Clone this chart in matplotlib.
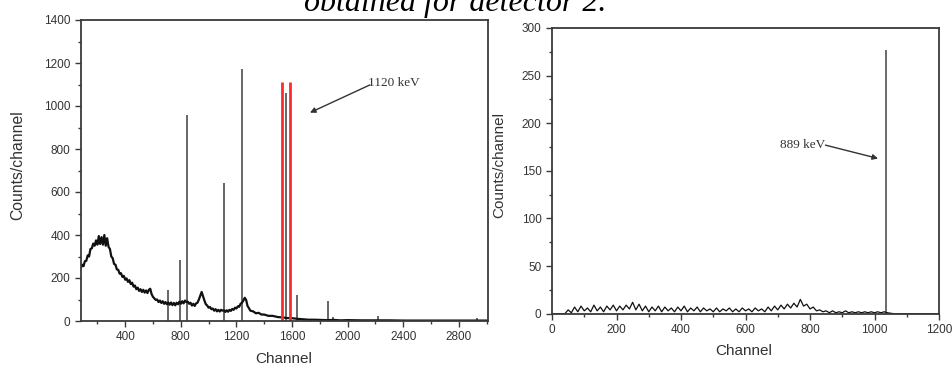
import matplotlib
matplotlib.use("Agg")
import matplotlib.pyplot as plt
from matplotlib.ticker import MultipleLocator

# ---------------- data ----------------
# Left spectrum: continuum samples (channel, counts)
left_cont_ch = [80, 90, 100, 110, 120, 130, 140, 150, 160, 170, 180, 190, 200, 210, 220,
                230, 240, 250, 260, 270, 280, 290, 300, 310, 320, 330, 340, 350, 360, 370,
                380, 390, 400, 410, 420, 430, 440, 450, 460, 470, 480, 490, 500, 510, 520,
                530, 540, 550, 560, 570, 580, 590, 600, 610, 620, 630, 640, 650, 660, 670,
                680, 690, 700, 710, 720, 730, 740, 750, 760, 770, 780, 790, 800, 810, 820,
                830, 840, 850, 860, 870, 880, 890, 900, 910, 920, 930, 940, 950, 960, 970,
                980, 990, 1000, 1010, 1020, 1030, 1040, 1050, 1060, 1070, 1080, 1090, 1100,
                1110, 1120, 1130, 1140, 1150, 1160, 1170, 1180, 1190, 1200, 1210, 1220,
                1230, 1240, 1250, 1260, 1270, 1280, 1290, 1300, 1320, 1340, 1360, 1380,
                1400, 1430, 1460, 1500, 1530, 1560, 1600, 1640, 1680, 1720, 1760, 1800,
                1850, 1900, 1950, 2000, 2100, 2200, 2300, 2400, 2600, 2800, 3000]
left_cont_counts = [245, 262, 255, 278, 280, 305, 300, 335, 338, 360, 350, 375, 355, 395, 358,
                    390, 355, 400, 350, 385, 345, 335, 300, 292, 265, 262, 240, 238, 220, 222,
                    205, 210, 192, 198, 182, 190, 172, 178, 160, 165, 148, 155, 140, 148, 135,
                    145, 132, 142, 130, 145, 150, 125, 112, 105, 98, 100, 88, 95, 84, 92,
                    80, 88, 78, 86, 76, 86, 74, 84, 73, 85, 78, 90, 80, 92, 82,
                    95, 88, 90, 80, 85, 72, 80, 70, 82, 85, 100, 118, 135, 115, 95,
                    78, 72, 62, 65, 55, 58, 48, 55, 45, 52, 44, 52, 48,
                    50, 42, 50, 43, 52, 47, 56, 52, 62, 58, 68, 66,
                    80, 85, 95, 108, 98, 70, 60, 48, 45, 36, 38, 30,
                    30, 24, 24, 18, 17, 14, 13, 10, 8, 6, 6, 5,
                    4, 5, 3, 4, 3, 3, 3, 2, 2, 2, 2]
# Left spectrum: sharp peaks (channel, height)
left_peak_ch = [707, 791, 842, 1110, 1237, 1556, 1633, 1856, 1894, 2219, 2928]
left_peak_counts = [145, 285, 960, 640, 1170, 1060, 120, 95, 18, 25, 15]
# Red marker lines around the 1120 keV peak
red_line_ch = [1525, 1587]
red_line_top = 1113

# Right spectrum continuum (channel, counts)
right_ch = [0, 40, 50, 60, 70, 80, 90, 100, 110, 120, 130, 140, 150, 160, 170, 180, 190,
            200, 210, 220, 230, 240, 250, 260, 270, 280, 290, 300, 310, 320, 330, 340,
            350, 360, 370, 380, 390, 400, 410, 420, 430, 440, 450, 460, 470, 480, 490,
            500, 510, 520, 530, 540, 550, 560, 570, 580, 590, 600, 610, 620, 630, 640,
            650, 660, 670, 680, 690, 700, 710, 720, 730, 740, 750, 760, 770, 780, 790,
            800, 810, 820, 830, 840, 850, 860, 870, 880, 890, 900, 910, 920, 930, 940,
            950, 960, 970, 980, 990, 1000, 1010, 1020, 1030, 1040, 1060, 1100, 1200]
right_counts = [0, 0, 4, 1, 7, 2, 8, 3, 6, 2, 9, 3, 7, 2, 8, 4, 9,
                3, 8, 4, 9, 5, 12, 4, 10, 3, 8, 2, 7, 3, 8, 2,
                7, 3, 6, 2, 7, 3, 8, 2, 6, 3, 7, 2, 6, 3, 5,
                2, 6, 2, 5, 3, 6, 2, 5, 2, 6, 3, 5, 2, 6, 3,
                5, 2, 7, 3, 8, 4, 9, 5, 10, 6, 11, 7, 15, 8, 10,
                5, 7, 3, 4, 2, 3, 1, 3, 1, 2, 1, 3, 1, 2, 1,
                2, 1, 2, 1, 2, 1, 2, 1, 2, 1, 0, 0, 0]
right_peak_ch = [1036]
right_peak_counts = [277]

left_xticks = [400, 800, 1200, 1600, 2000, 2400, 2800]
left_yticks = [0, 200, 400, 600, 800, 1000, 1200, 1400]
right_xticks = [0, 200, 400, 600, 800, 1000, 1200]
right_yticks = [0, 50, 100, 150, 200, 250, 300]

title_text = "obtained for detector 2."
left_label = "1120 keV"
right_label = "889 keV"

# ---------------- figure ----------------
plt.rcParams['font.family'] = ['Liberation Sans', 'DejaVu Sans']
fig = plt.figure(figsize=(9.52, 3.68), dpi=100)

spine_col = '#3a3a3a'
ax1 = fig.add_axes([81/952, 1-321/368, (488-81)/952, (321-20)/368])
ax2 = fig.add_axes([552/952, 1-313.7/368, (939-552)/952, (313.7-28)/368])

ax1.vlines(left_peak_ch, 0, left_peak_counts, color='#5a5a5a', lw=1.3)
ax1.plot(left_cont_ch, left_cont_counts, color='#111111', lw=1.6)
ax1.vlines(red_line_ch, 0, red_line_top, color='#ff2a2a', lw=2.0)
ax1.set_xlim(82, 3010)
ax1.set_ylim(0, 1400)
ax1.set_xticks(left_xticks)
ax1.set_yticks(left_yticks)
ax1.xaxis.set_minor_locator(MultipleLocator(200))
ax1.yaxis.set_minor_locator(MultipleLocator(100))

ax2.vlines(right_peak_ch, 0, right_peak_counts, color='#6a6a6a', lw=1.4)
ax2.plot(right_ch, right_counts, color='#111111', lw=0.9)
ax2.set_xlim(0, 1200)
ax2.set_ylim(0, 300)
ax2.set_xticks(right_xticks)
ax2.set_yticks(right_yticks)
ax2.xaxis.set_minor_locator(MultipleLocator(100))
ax2.yaxis.set_minor_locator(MultipleLocator(25))

for ax in (ax1, ax2):
    for s in ax.spines.values():
        s.set_color(spine_col)
        s.set_linewidth(1.3)
    ax.tick_params(which='both', direction='out', top=False, right=False,
                   color=spine_col, width=1.0, labelsize=8.5, labelcolor='#333333')
    ax.tick_params(which='major', length=4)
    ax.tick_params(which='minor', length=2.5)

fig.text(18/952, 1-165/368, "Counts/channel", rotation=90, ha='center', va='center',
         fontsize=11.3, color='#333333')
fig.text(499/952, 1-165/368, "Counts/channel", rotation=90, ha='center', va='center',
         fontsize=11, color='#333333')
fig.text(284/952, 1-359/368, "Channel", ha='center', va='center', fontsize=11, color='#333333')
fig.text(744/952, 1-351/368, "Channel", ha='center', va='center', fontsize=11, color='#333333')

# Annotations
ax1.text(2146, 1107, left_label, ha='left', va='center', fontsize=9.5,
         family=['Liberation Serif'], color='#333333')
ax1.annotate('', xy=(1729, 969), xytext=(2160, 1098),
             arrowprops=dict(arrowstyle='-|>', color='#333333', lw=1.0,
                             mutation_scale=8, shrinkA=0, shrinkB=0))
ax2.text(707, 177, right_label, ha='left', va='center', fontsize=9.5,
         family=['Liberation Serif'], color='#333333')
ax2.annotate('', xy=(1011, 163), xytext=(848, 177),
             arrowprops=dict(arrowstyle='-|>', color='#333333', lw=1.0,
                             mutation_scale=8, shrinkA=0, shrinkB=0))

# Caption fragment, cut off at the top edge as in the reference
fig.text(455/952, 1-11/368, title_text, ha='center', va='baseline', fontsize=23,
         family=['Liberation Serif'], style='italic', color='black')

fig.savefig('out.png', dpi=100)
